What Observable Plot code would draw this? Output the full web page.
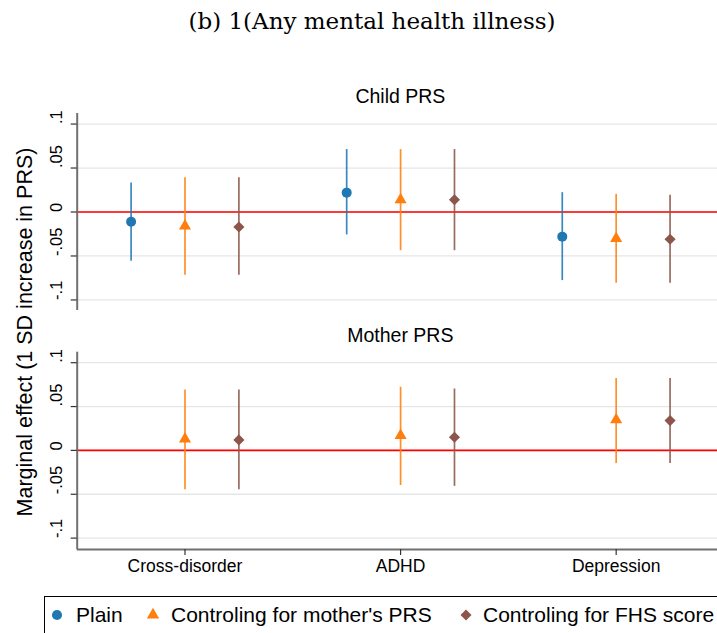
<!DOCTYPE html>
<html><head><meta charset="utf-8">
<script src="https://cdn.jsdelivr.net/npm/d3@7"></script>
<script src="https://cdn.jsdelivr.net/npm/@observablehq/plot@0.6"></script>
<style>
body{margin:0;background:#fff;}
#wrap{position:relative;width:717px;height:633px;overflow:hidden;font-family:"Liberation Sans",Arial,sans-serif;color:#000;}
.abs{position:absolute;}
#title{left:0;top:8px;width:744px;text-align:center;font-family:"DejaVu Serif","Liberation Serif",serif;font-size:23px;white-space:nowrap;}
#ylab{left:25px;top:332px;transform:translate(-50%,-50%) rotate(-90deg);font-size:21.5px;white-space:nowrap;}
#legend{left:44px;top:596px;width:720px;height:60px;border:1px solid #000;box-sizing:border-box;}
.lt{position:absolute;top:603px;font-size:21px;white-space:nowrap;line-height:24px;}
</style></head><body><div id="wrap">
<div id="title" class="abs">(b) 1(Any mental health illness)</div>
<div id="ylab" class="abs">Marginal effect (1 SD increase in PRS)</div>
<div id="p1" class="abs" style="left:0;top:80px"></div>
<div id="p2" class="abs" style="left:0;top:320px"></div>
<div id="legend" class="abs"></div>
</div>
<script>
const categories = ["Cross-disorder", "ADHD", "Depression"];
const seriesNames = ["Plain", "Controling for mother's PRS", "Controling for FHS score"];
const seriesColors = ["#1f77b4", "#ff7f0e", "#8c564b"];
const panelNames = ["Child PRS", "Mother PRS"];
const yTicks = [-0.1, -0.05, 0, 0.05, 0.1];
const yTickLabels = ["-.1", "-.05", "0", ".05", ".1"];

// [estimate, lower CI, upper CI] per category
const childPlain  = [[-0.011, -0.056, 0.033], [0.022, -0.026, 0.071], [-0.028, -0.078, 0.022]];
const childMother = [[-0.016, -0.072, 0.039], [0.014, -0.044, 0.071], [-0.030, -0.081, 0.020]];
const childFHS    = [[-0.017, -0.072, 0.039], [0.014, -0.044, 0.071], [-0.031, -0.081, 0.019]];
const motherPlain  = [];
const motherMother = [[0.013, -0.045, 0.069], [0.017, -0.040, 0.072], [0.035, -0.015, 0.082]];
const motherFHS    = [[0.012, -0.045, 0.069], [0.015, -0.041, 0.070], [0.034, -0.015, 0.082]];

const dodge = [-0.25, 0, 0.25];
const symbols = ["circle", "triangle", "diamond2"];
const radii = [5, 4.5, 5];

function rows(seriesArrays) {
  const out = [];
  seriesArrays.forEach((arr, s) => {
    arr.forEach((v, c) => {
      out.push({series: seriesNames[s], si: s, cat: c, x: c + 1 + dodge[s], est: v[0], lo: v[1], hi: v[2]});
    });
  });
  return out;
}

function panel(data, name, opts) {
  const marks = [
    Plot.gridY(yTicks, {stroke: "#e6e6e6", strokeOpacity: 1, strokeWidth: 1.3}),
    Plot.ruleY([0], {stroke: "#ff0000", strokeWidth: 1.6}),
    Plot.ruleX(data, {x: "x", y1: "lo", y2: "hi", stroke: d => seriesColors[d.si], strokeWidth: 1.7, strokeOpacity: 0.88}),
    ...seriesNames.map((s, i) => Plot.dot(data.filter(d => d.si === i), {
      x: "x", y: "est", symbol: () => symbols[i], r: radii[i], fill: seriesColors[i], stroke: "none"
    })),
    Plot.ruleX([0.5], {stroke: "#707070", strokeWidth: 2}),
    Plot.axisY(yTicks, {tickSize: 6, tickFormat: () => "", label: null, stroke: "#333", strokeWidth: 1.2}),
    Plot.text(yTicks, {y: d => d, frameAnchor: "left", text: (d, i) => yTickLabels[i], rotate: -90, dx: -20, fontSize: 16.5, fill: "#000"}),
    Plot.text([name], {frameAnchor: "top", dy: opts.titleDy, dx: 3, fontSize: 19.5, fill: "#000", lineAnchor: "middle"})
  ];
  if (opts.showX) {
    marks.push(Plot.ruleY([opts.yDomain[0]], {stroke: "#707070", strokeWidth: 2}));
    marks.push(Plot.axisX([1, 2, 3], {tickSize: 6, tickPadding: 4, tickFormat: i => categories[i - 1], fontSize: 17.5, label: null, stroke: "#333", strokeWidth: 1.2}));
  }
  return Plot.plot({
    width: 717, height: opts.height,
    marginLeft: 76.7, marginRight: 0, marginTop: opts.marginTop, marginBottom: opts.marginBottom,
    style: {fontFamily: "Liberation Sans, Arial, sans-serif", background: "transparent", overflow: "visible"},
    x: {domain: [0.5, 3.47], axis: opts.showX ? undefined : null},
    y: {domain: opts.yDomain},
    marks
  });
}

document.getElementById("p1").appendChild(panel(rows([childPlain, childMother, childFHS]), panelNames[0],
  {height: 240, marginTop: 33, marginBottom: 10, yDomain: [-0.112, 0.112], titleDy: -16.3, showX: false}));
document.getElementById("p2").appendChild(panel(rows([motherPlain, motherMother, motherFHS]), panelNames[1],
  {height: 260, marginTop: 31.7, marginBottom: 31, yDomain: [-0.113, 0.112], titleDy: -16.7, showX: true}));

// legend
const wrap = document.getElementById("wrap");
const legendItems = [
  {sym: 57.3, text: 76},
  {sym: 153, text: 171},
  {sym: 466, text: 483}
];
const symPaths = [d3.symbol(d3.symbolCircle, 80)(), d3.symbol(d3.symbolTriangle, 66)(), d3.symbol(d3.symbolDiamond2, 78)()];
legendItems.forEach((it, i) => {
  const svg = d3.select(wrap).append("svg").attr("class", "abs")
    .style("left", (it.sym - 8) + "px").style("top", (615 - 8) + "px")
    .attr("width", 16).attr("height", 16);
  svg.append("path").attr("d", symPaths[i]).attr("transform", "translate(8,8)").attr("fill", seriesColors[i]);
  d3.select(wrap).append("div").attr("class", "lt").style("left", it.text + "px").text(seriesNames[i]);
});
</script>
</body></html>
